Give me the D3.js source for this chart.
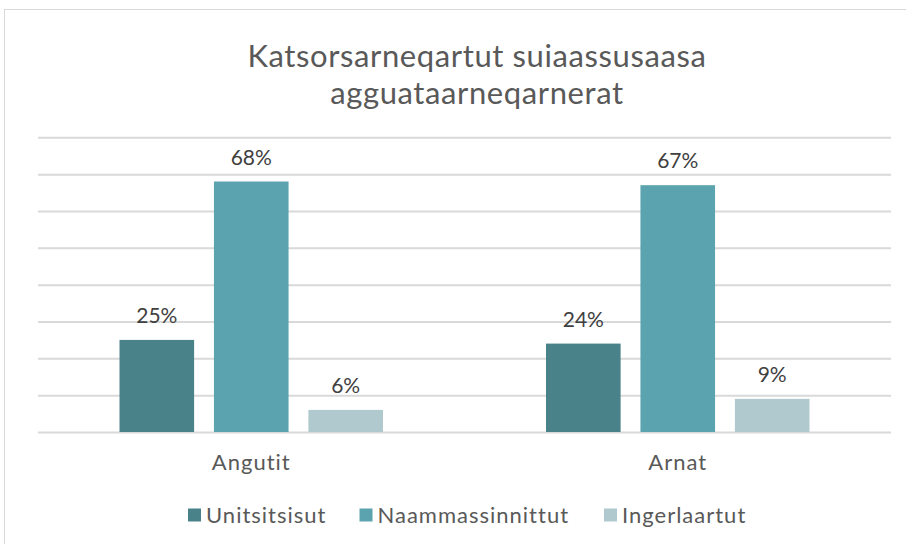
<!DOCTYPE html>
<html>
<head>
<meta charset="utf-8">
<script src="https://cdn.jsdelivr.net/npm/d3@7"></script>
<style>
  body { margin: 0; background: #fff; }
  text { font-family: Lato, "Open Sans", sans-serif; }
</style>
</head>
<body>
<div id="chart"></div>
<script>
// chart data
var titleLines = ["Katsorsarneqartut suiaassusaasa", "agguataarneqarnerat"];
var categories = ["Angutit", "Arnat"];
var seriesNames = ["Unitsitsisut", "Naammassinnittut", "Ingerlaartut"];
var unitsitsisut = [25, 24];
var naammassinnittut = [68, 67];
var ingerlaartut = [6, 9];
var gridTicks = [0, 10, 20, 30, 40, 50, 60, 70, 80];

var colors = ["#4a828a", "#5ba3af", "#afc9cf"];
var seriesValues = [unitsitsisut, naammassinnittut, ingerlaartut];

var width = 906;
var height = 544;

var svg = d3.select("#chart")
    .append("svg")
    .attr("width", width)
    .attr("height", height);

// chart frame
svg.append("rect")
    .attr("x", 4.5)
    .attr("y", 9.5)
    .attr("width", 905)
    .attr("height", 545)
    .attr("fill", "#fff")
    .attr("stroke", "#d9d9d9")
    .attr("stroke-width", 1);

// title
svg.append("text")
    .attr("x", 477)
    .attr("y", 67)
    .attr("text-anchor", "middle")
    .attr("fill", "#595959")
    .attr("font-size", 31)
    .attr("letter-spacing", 0.6)
    .selectAll("tspan")
    .data(titleLines).enter()
    .append("tspan")
    .attr("x", 477)
    .attr("dy", function(d, i) { return i === 0 ? 0 : 37; })
    .text(function(d) { return d; });

var plotLeft = 38, plotRight = 891;
var plotTop = 137.3, plotBottom = 432;

var y = d3.scaleLinear()
    .domain([0, 80])
    .range([plotBottom, plotTop]);

var x0 = d3.scaleBand()
    .domain(categories)
    .range([plotLeft, plotRight])
    .padding(0);

var x1 = d3.scaleBand()
    .domain(seriesNames)
    .range([81.5, 345])
    .paddingInner(0.21)
    .paddingOuter(0);

// gridlines
var yAxis = d3.axisLeft(y)
    .tickValues(gridTicks)
    .tickSize(-(plotRight - plotLeft))
    .tickFormat("");

var gY = svg.append("g")
    .attr("transform", "translate(" + plotLeft + ",0)")
    .call(yAxis);
gY.select(".domain").remove();
gY.selectAll(".tick line")
    .attr("stroke", "#d9d9d9")
    .attr("stroke-width", 2);

// bars
var groups = svg.selectAll("g.cat")
    .data(categories).enter()
    .append("g")
    .attr("class", "cat")
    .attr("transform", function(d) { return "translate(" + x0(d) + ",0)"; });

groups.each(function(cat, ci) {
    var g = d3.select(this);
    var rows = seriesNames.map(function(s, si) {
        return { name: s, value: seriesValues[si][ci], color: colors[si] };
    });
    g.selectAll("rect")
        .data(rows).enter()
        .append("rect")
        .attr("x", function(d) { return x1(d.name); })
        .attr("y", function(d) { return y(d.value); })
        .attr("width", x1.bandwidth())
        .attr("height", function(d) { return plotBottom - y(d.value); })
        .attr("fill", function(d) { return d.color; });
    g.selectAll("text")
        .data(rows).enter()
        .append("text")
        .attr("x", function(d) { return x1(d.name) + x1.bandwidth() / 2; })
        .attr("y", function(d) { return y(d.value) - 17; })
        .attr("text-anchor", "middle")
        .attr("fill", "#404040")
        .attr("font-size", 21)
        .text(function(d) { return d.value + "%"; });
});

// category axis
var xAxis = d3.axisBottom(x0).tickSize(0).tickPadding(22);
var gX = svg.append("g")
    .attr("transform", "translate(0," + plotBottom + ")")
    .call(xAxis);
gX.select(".domain").remove();
gX.selectAll("text")
    .attr("font-size", 22)
    .attr("letter-spacing", 1)
    .attr("fill", "#595959")
    .style("font-family", "Lato, 'Open Sans', sans-serif");

// legend
var legendX = [188, 359.5, 604];
var legend = svg.selectAll("g.legend")
    .data(seriesNames).enter()
    .append("g")
    .attr("class", "legend")
    .attr("transform", function(d, i) { return "translate(" + legendX[i] + ",515)"; });
legend.append("rect")
    .attr("x", 0)
    .attr("y", -6.5)
    .attr("width", 13)
    .attr("height", 13)
    .attr("fill", function(d, i) { return colors[i]; });
legend.append("text")
    .attr("x", 18)
    .attr("y", 7.5)
    .attr("fill", "#595959")
    .attr("font-size", 22)
    .attr("letter-spacing", 1)
    .text(function(d) { return d; });
</script>
</body>
</html>
